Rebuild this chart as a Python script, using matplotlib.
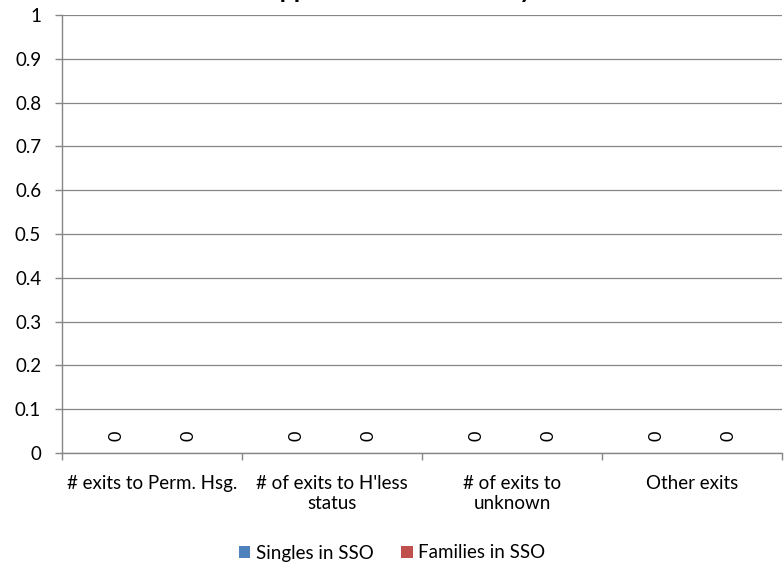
import matplotlib
matplotlib.use('Agg')
import matplotlib.pyplot as plt
import numpy as np

categories = ["# exits to Perm. Hsg.", "# of exits to H'less\nstatus",
              "# of exits to\nunknown", "Other exits"]
singles = [0, 0, 0, 0]
families = [0, 0, 0, 0]
y_ticks = [0, 0.1, 0.2, 0.3, 0.4, 0.5, 0.6, 0.7, 0.8, 0.9, 1]
y_tick_labels = ['0', '0.1', '0.2', '0.3', '0.4', '0.5', '0.6', '0.7', '0.8', '0.9', '1']

plt.rcParams['font.family'] = ['Lato', 'DejaVu Sans']
grey = '#868686'
fs = 13.5

fig = plt.figure(figsize=(7.84, 5.64), dpi=100)
ax = fig.add_axes([62 / 784, 1 - 453 / 564, 720 / 784, 438 / 564])

x = np.arange(len(categories))
w = 0.4
b1 = ax.bar(x - w / 2, singles, w, color='#4F81BD', label='Singles in SSO')
b2 = ax.bar(x + w / 2, families, w, color='#C0504D', label='Families in SSO')

# data labels, rotated like in the original sheet
for bars, vals in [(b1, singles), (b2, families)]:
    for rect, v in zip(bars, vals):
        ax.text(rect.get_x() + rect.get_width() / 2, v + 0.04, '%g' % v,
                rotation=90, ha='center', va='center', fontsize=13)

ax.set_xlim(-0.5, len(categories) - 0.5)
ax.set_ylim(0, 1)
ax.set_yticks(y_ticks)
ax.set_yticklabels(y_tick_labels, fontsize=fs)
ax.yaxis.grid(True, color=grey, linewidth=0.9)
ax.set_axisbelow(True)

ax.set_xticks(x)
ax.set_xticklabels(categories, fontsize=fs, ha='center', va='top', linespacing=1.2)
ax.tick_params(axis='x', length=0, pad=16)
ax.set_xticks(np.arange(-0.5, len(categories) + 0.5, 1), minor=True)
ax.tick_params(axis='x', which='minor', length=5, color=grey, width=1)
ax.tick_params(axis='y', length=5, color=grey, width=1, pad=10)

for side in ['top', 'right']:
    ax.spines[side].set_visible(False)
for side in ['left', 'bottom']:
    ax.spines[side].set_color(grey)
    ax.spines[side].set_linewidth(1)

fig.text(0.5, 1 + 2 / 564, 'Supportive Services Only', ha='center', va='baseline',
         fontsize=18, fontweight='bold')

fig.legend(handles=[b1, b2], loc='center', bbox_to_anchor=(0.5, 1 - 553 / 564), ncol=2,
           frameon=False, fontsize=fs, handlelength=0.6, handleheight=0.6,
           handletextpad=0.3, columnspacing=1.5)

plt.savefig('out.png', dpi=100)
